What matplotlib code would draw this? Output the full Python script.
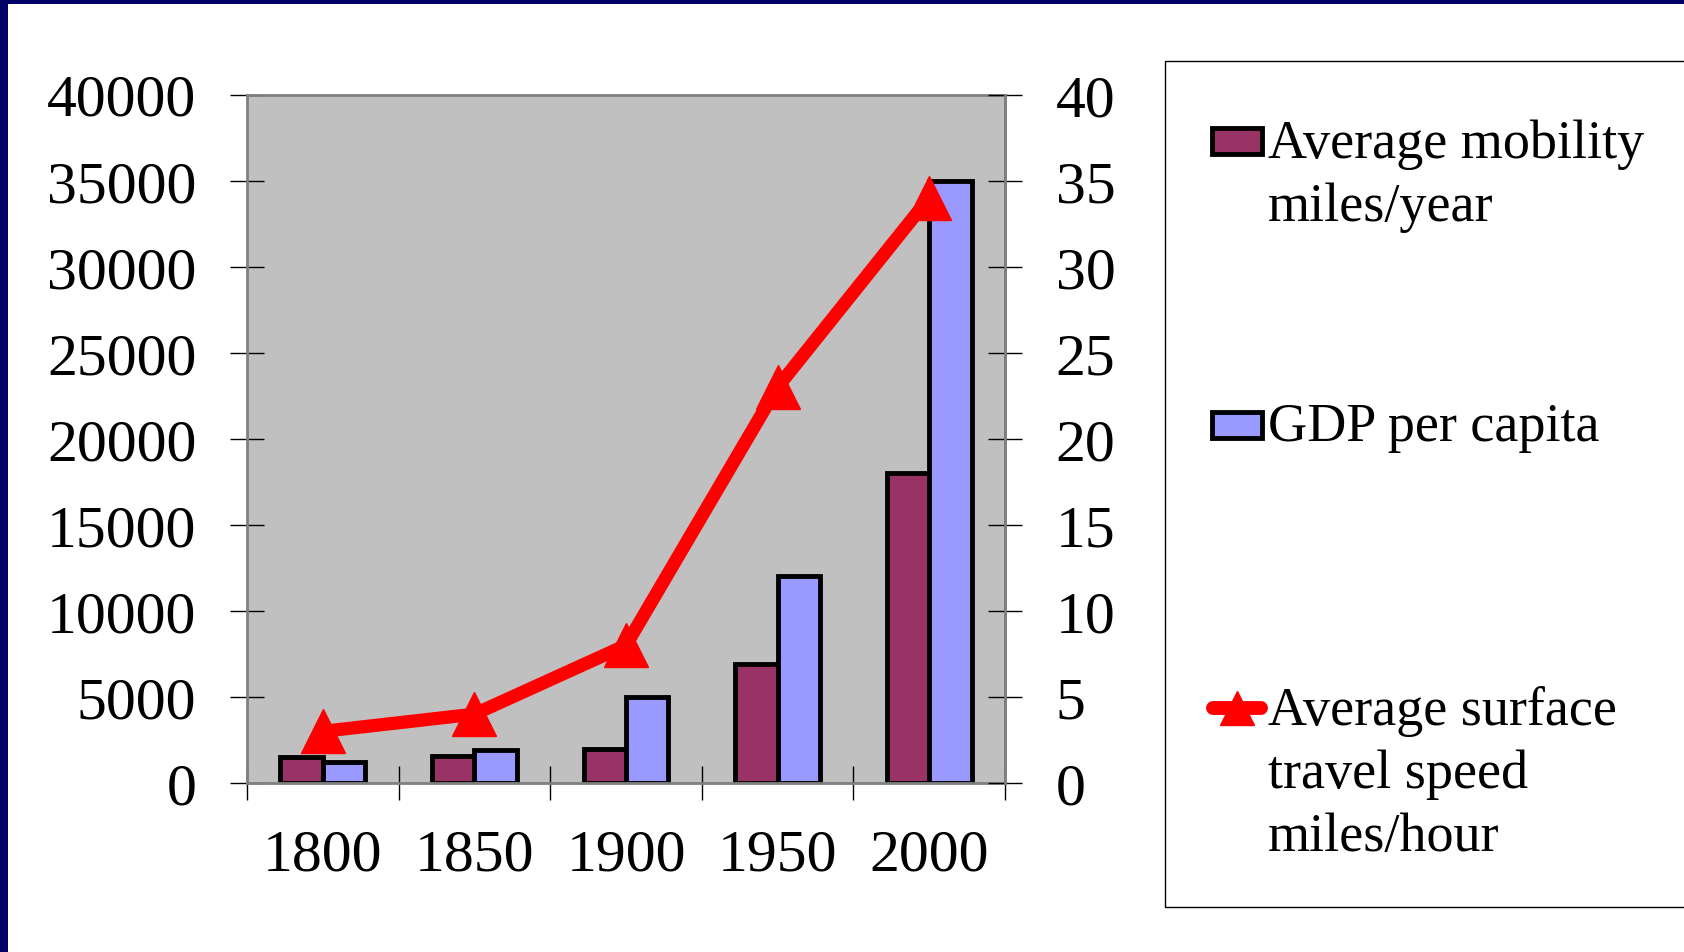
import matplotlib
matplotlib.use('Agg')
import matplotlib.pyplot as plt
import numpy as np
from matplotlib.patches import Rectangle
from matplotlib.lines import Line2D

years = ['1800', '1850', '1900', '1950', '2000']
mobility = [1500, 1550, 2000, 6900, 18000]   # average mobility, miles/year
gdp = [1200, 1900, 5000, 12000, 35000]       # GDP per capita
speed = [3, 4, 8, 23, 34]                    # surface travel speed, miles/hour

legend_labels = [['Average mobility', 'miles/year'],
                 ['GDP per capita'],
                 ['Average surface', 'travel speed', 'miles/hour']]

plt.rcParams['font.family'] = ['Liberation Serif', 'DejaVu Serif']

W, H = 1684, 953
fig = plt.figure(figsize=(W / 100, H / 100), dpi=100)
fig.patch.set_facecolor('white')

ax = fig.add_axes([247 / W, 1 - 784 / H, (1005 - 247) / W, (784 - 95.5) / H])
ax.set_facecolor('#c0c0c0')

xs = np.arange(len(years))
bw = 0.28
ax.bar(xs - bw / 2, mobility, bw, color='#993366', edgecolor='black', linewidth=3.5, zorder=2)
ax.bar(xs + bw / 2, gdp, bw, color='#9999ff', edgecolor='black', linewidth=3.5, zorder=2)

ax.set_xlim(-0.5, len(years) - 0.5)
ax.set_ylim(0, 40000)
ax.set_yticks(range(0, 40001, 5000))
# ticks sit between the year groups, labels in the middle of each group
ax.set_xticks(np.arange(-0.5, len(years), 1))
ax.set_xticklabels([])
ax.set_xticks(xs, minor=True)
ax.set_xticklabels(years, minor=True)
ax.tick_params(which='major', direction='inout', length=25, width=1, color='black',
               labelsize=43, pad=24)
ax.tick_params(axis='x', which='minor', length=0, labelsize=43, pad=33)
for sp in ax.spines.values():
    sp.set_color('#808080')
    sp.set_linewidth(2)

# speed on the right hand axis
ax2 = ax.twinx()
ax2.plot(xs, speed, color='red', lw=9.5, marker='^', ms=32, zorder=3)
ax2.set_ylim(0, 40)
ax2.set_yticks(range(0, 41, 5))
ax2.tick_params(which='major', direction='inout', length=25, width=1, color='black',
                labelsize=43, pad=24)
for k, sp in ax2.spines.items():
    if k == 'right':
        sp.set_color('#808080')
        sp.set_linewidth(2)
    else:
        sp.set_visible(False)

# overlay in pixel units for the slide border and the legend box
lg = fig.add_axes([0, 0, 1, 1])
lg.set_xlim(0, W)
lg.set_ylim(H, 0)
lg.axis('off')
lg.add_patch(Rectangle((0, 0), 8, H, color='#000066', lw=0))
lg.add_patch(Rectangle((0, 0), W, 5, color='#000066', lw=0))
lg.add_patch(Rectangle((1165, 62), 700, 846, fill=False, edgecolor='black', lw=1))

first_base = 158
entry_step = 283.5
line_step = 63
tx = 1268
for i, lines in enumerate(legend_labels):
    base = first_base + i * entry_step
    mid = base - 16
    if i == 0:
        lg.add_patch(Rectangle((1212, mid - 13), 50, 26, facecolor='#993366',
                               edgecolor='black', lw=3.5))
    elif i == 1:
        lg.add_patch(Rectangle((1212, mid - 13), 50, 26, facecolor='#9999ff',
                               edgecolor='black', lw=3.5))
    else:
        lg.add_line(Line2D([1213, 1261], [mid, mid], color='red', lw=10,
                           solid_capstyle='round'))
        lg.add_line(Line2D([1237], [mid], color='red', marker='^', ms=24, lw=0))
    for j, t in enumerate(lines):
        lg.text(tx, base + j * line_step, t, fontsize=39, va='baseline', ha='left')

fig.savefig('out.png', dpi=100)
